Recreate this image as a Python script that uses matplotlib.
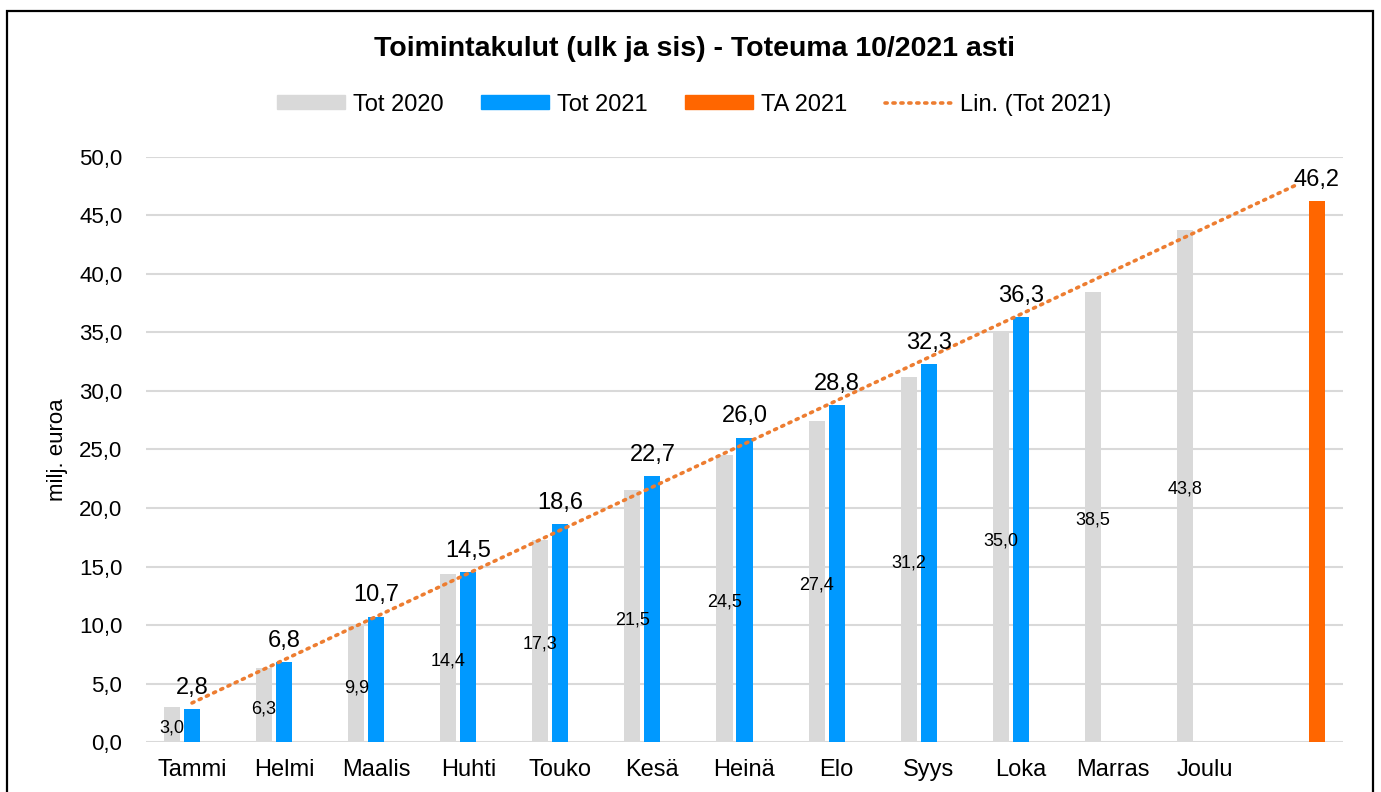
import numpy as np
import matplotlib
matplotlib.use("Agg")
import matplotlib.pyplot as plt
from matplotlib.patches import Rectangle, Patch
from matplotlib.lines import Line2D

plt.rcParams['font.family'] = ['Liberation Sans', 'DejaVu Sans']

# data (milj. euroa, cumulative)
months = ['Tammi', 'Helmi', 'Maalis', 'Huhti', 'Touko', 'Kesä',
          'Heinä', 'Elo', 'Syys', 'Loka', 'Marras', 'Joulu', '']
tot_2020 = [3.0, 6.3, 9.9, 14.4, 17.3, 21.5, 24.5, 27.4, 31.2, 35.0, 38.5, 43.8]
tot_2021 = [2.8, 6.8, 10.7, 14.5, 18.6, 22.7, 26.0, 28.8, 32.3, 36.3]
ta_2021 = 46.2

c_2020 = '#d9d9d9'
c_2021 = '#0099ff'
c_ta = '#ff6600'
c_trend = '#ed7d31'

fig = plt.figure(figsize=(13.81, 7.92), dpi=100)
ax = fig.add_axes([0.1057, 0.0631, 0.8668, 0.7387])

x = np.arange(len(months))
w = 0.175
off = 0.217

x20 = x[:len(tot_2020)]
x21 = x[:len(tot_2021)]
ax.bar(x20 - off, tot_2020, w, color=c_2020, zorder=2)
ax.bar(x21, tot_2021, w, color=c_2021, zorder=2)
ax.bar(x[-1] + off, ta_2021, w, color=c_ta, zorder=2)

# linear trend of Tot 2021, forecast to the end
k, b = np.polyfit(x21, tot_2021, 1)
xt = np.array([x[0], x[-1]])
ax.plot(xt, k * xt + b, linestyle=(0, (0.6, 1.6)), color=c_trend, lw=2.6,
        dash_capstyle='round', zorder=3)

# labels
for xi, v in zip(x20, tot_2020):
    ax.text(xi - off, v / 2 - 0.3, f"{v:.1f}".replace('.', ','), ha='center', va='center',
            fontsize=13, zorder=4)
for xi, v in zip(x21, tot_2021):
    ax.text(xi, v + 0.9, f"{v:.1f}".replace('.', ','), ha='center', va='bottom',
            fontsize=17, zorder=4)
ax.text(x[-1] + off, ta_2021 + 0.9, f"{ta_2021:.1f}".replace('.', ','), ha='center',
        va='bottom', fontsize=17, zorder=4)

ax.set_xlim(-0.5, len(months) - 0.5)
ax.set_ylim(0, 50)
ax.set_yticks(np.arange(0, 50.1, 5))
ax.set_yticklabels([f"{t:.1f}".replace('.', ',') for t in np.arange(0, 50.1, 5)])
ax.set_xticks(x)
ax.set_xticklabels(months)
ax.tick_params(axis='y', length=0, labelsize=16, pad=17)
ax.tick_params(axis='x', length=0, labelsize=17, pad=12)
ax.grid(axis='y', color='#d9d9d9', lw=1.5, zorder=0)
ax.set_axisbelow(True)
for s in ax.spines.values():
    s.set_visible(False)
ax.set_ylabel('milj. euroa', fontsize=16, labelpad=8)

fig.text(0.503, 0.938, 'Toimintakulut (ulk ja sis) - Toteuma 10/2021 asti',
         ha='center', va='center', fontsize=20.5, fontweight='bold')

handles = [Patch(color=c_2020), Patch(color=c_2021), Patch(color=c_ta),
           Line2D([], [], linestyle=(0, (0.6, 1.6)), color=c_trend, lw=2.6,
                  dash_capstyle='round')]
fig.legend(handles, ['Tot 2020', 'Tot 2021', 'TA 2021', 'Lin. (Tot 2021)'],
           loc='center', bbox_to_anchor=(0.503, 0.868), ncol=4, frameon=False,
           fontsize=17, handlelength=2.85, handleheight=0.5, handletextpad=0.35,
           columnspacing=1.6)

# chart border
fig.add_artist(Rectangle((0.005, -0.02), 0.989, 1.006, transform=fig.transFigure,
                         fill=False, edgecolor='black', lw=1.6))

fig.savefig('out.png', dpi=100)
